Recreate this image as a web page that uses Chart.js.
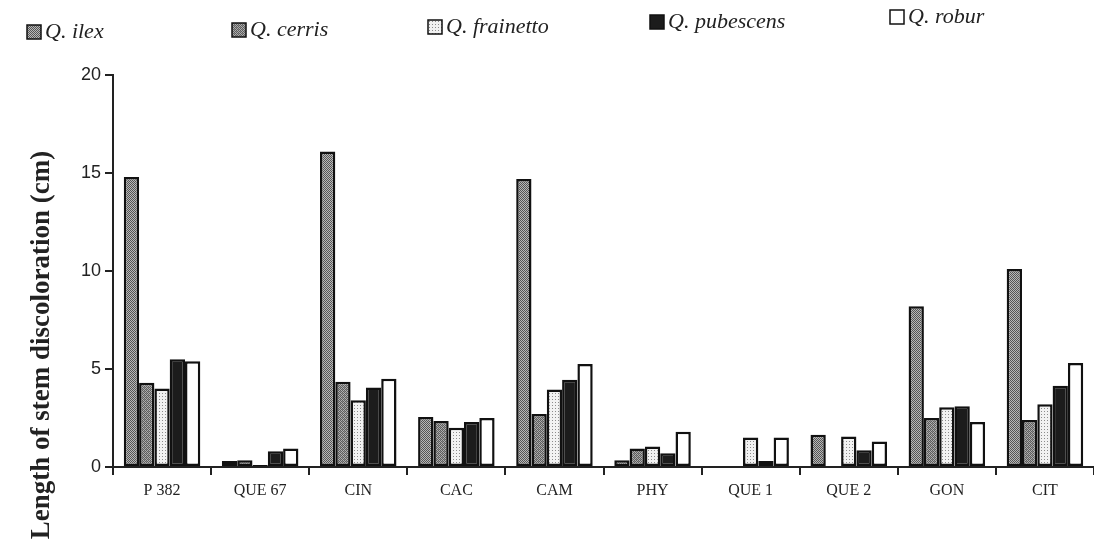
<!DOCTYPE html>
<html>
<head>
<meta charset="utf-8">
<script src="https://cdn.jsdelivr.net/npm/chart.js@4.4.1/dist/chart.umd.min.js"></script>
<style>
  html, body { margin: 0; padding: 0; background: #fff; }
  #wrap { width: 1094px; height: 546px; position: relative; }
</style>
</head>
<body>
<div id="wrap"><canvas id="myChart"></canvas></div>
<script>
const categories = ['P 382', 'QUE 67', 'CIN', 'CAC', 'CAM', 'PHY', 'QUE 1', 'QUE 2', 'GON', 'CIT'];
const species = ['Q. ilex', 'Q. cerris', 'Q. frainetto', 'Q. pubescens', 'Q. robur'];
const ilex      = [14.8, 0.3, 16.1, 2.55, 14.7, 0.35, 0, 1.65, 8.2, 10.1];
const cerris    = [4.3, 0.35, 4.35, 2.35, 2.7, 0.95, 0, 0, 2.5, 2.4];
const frainetto = [4.0, 0.1, 3.4, 2.0, 3.95, 1.05, 1.5, 1.55, 3.05, 3.2];
const pubescens = [5.5, 0.8, 4.05, 2.3, 4.45, 0.7, 0.3, 0.85, 3.1, 4.15];
const robur     = [5.4, 0.95, 4.5, 2.5, 5.25, 1.8, 1.5, 1.3, 2.3, 5.3];
const yTicks = [0, 5, 10, 15, 20];
const yTitle = 'Length of stem discoloration (cm)';

// little bitmap fills, like the print stipples
function makePattern(cells, colors){
  const size = cells.length;
  const c = document.createElement('canvas');
  c.width = size; c.height = size;
  const g = c.getContext('2d');
  for(let y=0; y<size; y++){
    for(let x=0; x<size; x++){
      g.fillStyle = colors[cells[y][x]];
      g.fillRect(x, y, 1, 1);
    }
  }
  return g.createPattern(c, 'repeat');
}

const ctx = document.getElementById('myChart');

const ilexFill = makePattern([[0,1,0,1],[1,0,1,0],[0,1,0,1],[1,0,1,0]], ['#555', '#b8b8b8']);
const cerrisFill = makePattern([[0,1,0,1],[1,0,2,0],[0,1,0,1],[2,0,1,0]], ['#5e5e5e', '#b0b0b0', '#8a8a8a']);
const frainettoFill = makePattern([[0,1,1],[1,1,1],[1,1,1]], ['#8c8c8c', '#f2f2f2']);

const fills = [ilexFill, cerrisFill, frainettoFill, '#1c1c1c', '#ffffff'];
const values = [ilex, cerris, frainetto, pubescens, robur];

// legend spots (the row is a bit crooked there)
const legendX = [27, 232, 428, 650, 890];
const legendY = [32, 30, 27, 22, 17];

const paperLegend = {
  id: 'paperLegend',
  afterDraw(chart){
    const c = chart.ctx;
    c.save();
    c.font = 'italic 22px "Liberation Serif"';
    c.textBaseline = 'middle';
    chart.data.datasets.forEach((ds, i)=>{
      const x = legendX[i], y = legendY[i];
      c.fillStyle = ds.backgroundColor;
      c.fillRect(x, y-7, 14, 14);
      c.strokeStyle = '#111';
      c.lineWidth = 1.5;
      c.strokeRect(x, y-7, 14, 14);
      c.fillStyle = '#222';
      c.fillText(ds.label, x+18, y);
    });
    // y title, sits lower than the axis middle like in the print
    c.translate(42, 345);
    c.rotate(-Math.PI/2);
    c.font = 'bold 27px "Liberation Serif"';
    c.textAlign = 'center';
    c.fillStyle = '#222';
    c.fillText(yTitle, 0, 0);
    c.restore();
  }
};

new Chart(ctx, {
  type: 'bar',
  data: {
    labels: categories,
    datasets: species.map((s, i)=>({
      label: s,
      data: values[i],
      backgroundColor: fills[i],
      borderColor: '#111',
      borderWidth: 2.5,
      borderSkipped: false,
      categoryPercentage: 0.78,
      barPercentage: 1
    }))
  },
  options: {
    responsive: true,
    maintainAspectRatio: false,
    animation: false,
    layout: { padding: { top: 75, left: 0, right: 0, bottom: 0 } },
    plugins: {
      legend: { display: false },
      tooltip: { enabled: false }
    },
    scales: {
      x: {
        grid: { drawOnChartArea: false, tickLength: 8, color: '#222', lineWidth: 2 },
        border: { color: '#222', width: 2 },
        ticks: { color: '#222', font: { family: 'Liberation Serif', size: 16 }, padding: 6 },
        afterFit: (s)=>{ s.height = 79; }
      },
      y: {
        min: 0,
        max: 20,
        afterBuildTicks: (s)=>{ s.ticks = yTicks.map(v=>({ value: v })); },
        grid: { drawOnChartArea: false, tickLength: 8, color: '#222', lineWidth: 2 },
        border: { color: '#222', width: 2 },
        ticks: { color: '#222', font: { family: 'Liberation Sans', size: 18 }, padding: 4 },
        afterFit: (s)=>{ s.width = 113; }
      }
    }
  },
  plugins: [paperLegend]
});
</script>
</body>
</html>
